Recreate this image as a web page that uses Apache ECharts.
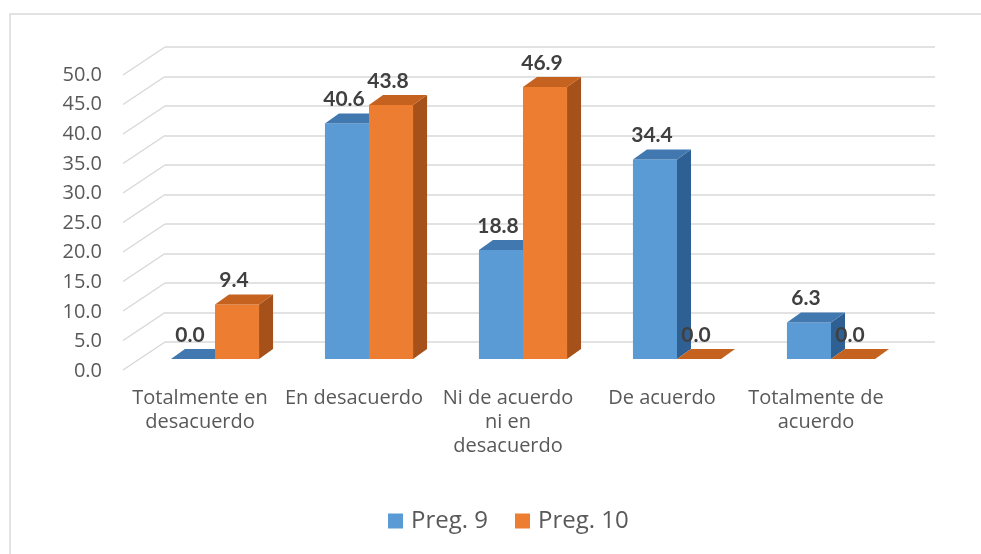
<!DOCTYPE html>
<html>
<head>
<meta charset="utf-8">
<script src="https://cdn.jsdelivr.net/npm/echarts@6/dist/echarts.min.js"></script>
<style>
  html, body { margin: 0; padding: 0; background: #fff; }
  #chart { width: 981px; height: 554px; }
</style>
</head>
<body>
<div id="chart"></div>
<script>
// categorías del eje X (saltos de línea como en el original)
const categories = [
  'Totalmente en\ndesacuerdo',
  'En desacuerdo',
  'Ni de acuerdo\nni en\ndesacuerdo',
  'De acuerdo',
  'Totalmente de\nacuerdo'
]
const preg9 = [0.0, 40.6, 18.8, 34.4, 6.3]
const preg10 = [9.4, 43.8, 46.9, 0.0, 0.0]
const yTicks = [0, 5, 10, 15, 20, 25, 30, 35, 40, 45, 50]

// colores: frente, tapa, lateral
const blue = { front: '#5b9bd5', top: '#4178b0', side: '#2f6094' }
const orange = { front: '#ed7d31', top: '#c5621f', side: '#a6511a' }

const chart = echarts.init(document.getElementById('chart'))

// barra "3D": cara frontal + tapa + lateral
function bar3d(colors, side) {
  return function (params, api) {
    const cat = api.value(0)
    const val = api.value(1)
    const base = api.coord([cat, 0])
    const top = api.coord([cat, val])
    const band = api.size([1, 0])[0]
    const w = band * 0.286
    const x0 = side < 0 ? base[0] - w : base[0]
    const x1 = x0 + w
    const dx = 14, dy = -10
    const yt = top[1], yb = base[1]
    return {
      type: 'group',
      children: [
        {
          type: 'rect',
          shape: { x: x0, y: yt, width: w, height: yb - yt },
          style: { fill: colors.front }
        },
        {
          type: 'polygon',
          shape: { points: [[x1, yt], [x1, yb], [x1 + dx, yb + dy], [x1 + dx, yt + dy]] },
          style: { fill: colors.side }
        },
        {
          type: 'polygon',
          shape: { points: [[x0, yt], [x1, yt], [x1 + dx, yt + dy], [x0 + dx, yt + dy]] },
          style: { fill: colors.top }
        },
        {
          type: 'text',
          x: (x0 + x1) / 2 - 3,
          y: yt - 24,
          style: {
            text: val.toFixed(1),
            fill: '#404040',
            font: 'bold 21px Lato',
            align: 'center',
            verticalAlign: 'middle'
          }
        }
      ]
    }
  }
}

const option = {
  animation: false,
  graphic: [
    {
      type: 'rect',
      shape: { x: 10, y: 14, width: 1000, height: 600 },
      style: { fill: 'none', stroke: '#d9d9d9', lineWidth: 1.5 },
      silent: true
    }
  ],
  legend: {
    bottom: 16,
    left: 383,
    itemWidth: 15,
    itemHeight: 15,
    itemGap: 27,
    icon: 'rect',
    textStyle: { fontFamily: 'Open Sans', fontSize: 24, color: '#595959', padding: [0, 0, 0, 3] },
    data: ['Preg. 9', 'Preg. 10']
  },
  grid: [
    // plano frontal (etiquetas)
    { left: 123, top: 75, width: 770, height: 296 },
    // pared del fondo (líneas de cuadrícula)
    { left: 165, top: 47, width: 770, height: 295 },
    // plano de las barras
    { left: 138, top: 69, width: 770, height: 290 }
  ],
  xAxis: [
    {
      gridIndex: 0,
      type: 'category',
      data: categories,
      axisLine: { show: false },
      axisTick: { show: false },
      axisLabel: {
        interval: 0,
        margin: 15,
        fontFamily: 'Open Sans',
        fontSize: 20,
        lineHeight: 24,
        color: '#595959'
      }
    },
    { gridIndex: 1, type: 'value', min: 0, max: 1, show: false },
    { gridIndex: 2, type: 'category', data: categories, show: false }
  ],
  yAxis: [
    {
      gridIndex: 0,
      type: 'value',
      min: 0,
      max: 50,
      interval: 5,
      axisLine: { show: false },
      axisTick: { show: false },
      splitLine: { show: false },
      axisLabel: {
        margin: 21,
        fontFamily: 'Open Sans',
        fontSize: 20,
        color: '#595959',
        formatter: v => v.toFixed(1)
      }
    },
    {
      gridIndex: 1,
      type: 'value',
      min: 0,
      max: 50,
      interval: 5,
      axisLine: { show: false },
      axisTick: { show: false },
      axisLabel: { show: false },
      splitLine: { lineStyle: { color: '#d9d9d9', width: 1.5 } }
    },
    { gridIndex: 2, type: 'value', min: 0, max: 50, show: false }
  ],
  series: [
    {
      // líneas inclinadas de la pared izquierda
      type: 'custom',
      xAxisIndex: 1,
      yAxisIndex: 1,
      silent: true,
      data: yTicks.map(v => [0, v]),
      renderItem: function (params, api) {
        const p = api.coord([0, api.value(1)])
        return {
          type: 'line',
          shape: { x1: p[0], y1: p[1], x2: p[0] - 42, y2: p[1] + 28 },
          style: { stroke: '#d9d9d9', lineWidth: 1.5 }
        }
      }
    },
    {
      name: 'Preg. 9',
      type: 'custom',
      xAxisIndex: 2,
      yAxisIndex: 2,
      itemStyle: { color: blue.front },
      data: preg9.map((v, i) => [i, v]),
      renderItem: bar3d(blue, -1)
    },
    {
      name: 'Preg. 10',
      type: 'custom',
      xAxisIndex: 2,
      yAxisIndex: 2,
      itemStyle: { color: orange.front },
      data: preg10.map((v, i) => [i, v]),
      renderItem: bar3d(orange, 1)
    }
  ]
}

chart.setOption(option)
</script>
</body>
</html>
